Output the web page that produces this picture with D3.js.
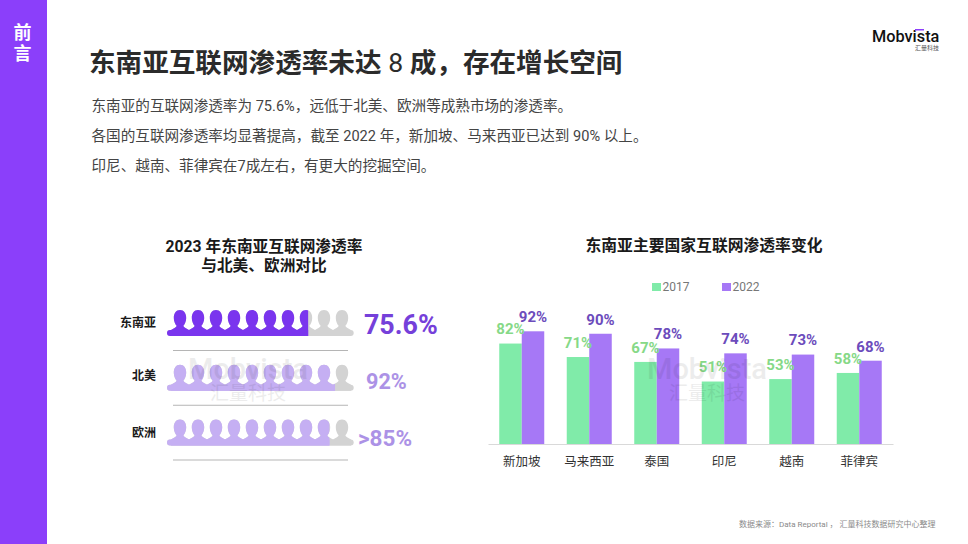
<!DOCTYPE html>
<html lang="zh">

<head>
    <meta charset="UTF-8">
    <script src="https://d3js.org/d3.v7.min.js"></script>
    <title>东南亚互联网渗透率</title>
    <style>
        html, body { margin: 0; padding: 0; background: #fff; }
        svg { display: block; }
        text { font-family: Roboto, "Noto Sans CJK SC", sans-serif; }
    </style>
</head>

<body>
    <div id="app"></div>
    <script>
        // left chart
        const regions = ['东南亚', '北美', '欧洲'];
        const regionLabels = ['75.6%', '92%', '>85%'];
        const regionFill = [75.6, 90, 87]; // how far the fill runs
        const people = [0, 1, 2, 3, 4, 5, 6, 7, 8, 9];

        // right chart
        const countries = ['新加坡', '马来西亚', '泰国', '印尼', '越南', '菲律宾'];
        const years = ['2017', '2022'];
        const values2017 = [82, 71, 67, 51, 53, 58];
        const values2022 = [92, 90, 78, 74, 73, 68];

        const introLines = [
            '东南亚的互联网渗透率为 75.6%，远低于北美、欧洲等成熟市场的渗透率。',
            '各国的互联网渗透率均显著提高，截至 2022 年，新加坡、马来西亚已达到 90% 以上。',
            '印尼、越南、菲律宾在7成左右，有更大的挖掘空间。'
        ];

        const width = 968;
        const height = 544;
        const green = '#80EBA9';
        const purple = '#A678F6';

        const svg = d3.select('#app').append('svg')
            .attr('width', width)
            .attr('height', height);

        function label(x, y, str, size, color, weight, anchor) {
            return svg.append('text')
                .attr('x', x).attr('y', y)
                .attr('dy', '0.36em')
                .attr('font-size', size)
                .attr('fill', color)
                .attr('font-weight', weight || 400)
                .attr('text-anchor', anchor || 'start')
                .text(str);
        }

        // side band + headings
        svg.append('rect').attr('width', 47).attr('height', height).attr('fill', '#8B3FFA');
        label(22.5, 33, '前', 18, '#fff', 700, 'middle');
        label(22.5, 54, '言', 18, '#fff', 700, 'middle');

        const title = label(89, 62, '东南亚互联网渗透率未达 ', 26.6, '#2b2b2b', 700);
        title.append('tspan').attr('font-weight', 400).text('8');
        title.append('tspan').text(' 成，存在增长空间');

        introLines.forEach(function (d, i) {
            label(91.5, 105.5 + i * 30, d, 14.6, '#444');
        });

        // logo
        label(872, 36, 'Mobvista', 16.3, '#111', 500);
        svg.append('rect').attr('x', 915).attr('y', 29).attr('width', 9).attr('height', 1.5).attr('fill', '#8B3FFA');
        label(915, 48, '汇量科技', 6, '#555');

        // ---- left chart: pictogram rows ----
        label(264, 246, '2023 年东南亚互联网渗透率', 15.7, '#1a1a1a', 700, 'middle');
        label(264, 265, '与北美、欧洲对比', 15.7, '#1a1a1a', 700, 'middle');

        const rowY = d3.scalePoint().domain(regions).range([310, 419.5]);
        const fillX = d3.scaleLinear().domain([0, 100]).range([167, 353.7]);
        const personX = d3.scaleBand().domain(people).range([171, 351]);
        const rowColors = ['#7A35EE', '#C5AFF3', '#C5AFF3'];
        const valueColors = ['#7540DA', '#AC92E6', '#AC92E6'];
        const valueSizes = [26.8, 21.6, 22.5];
        const valueX = [364, 366, 358];
        const valueY = [324, 381, 438];
        const nameY = [323, 376, 433];
        const rowH = 26;

        const defs = svg.append('defs');

        // one person: head plus shoulders, row base runs under all of them
        const personPath = 'M0,0 C-4,0 -6.2,3.4 -6.2,8 C-6.2,11.4 -4.8,14.2 -3.4,15.8 '
            + 'C-3.4,17.4 -6,18.4 -9,20 L-9,26 L9,26 L9,20 C6,18.4 3.4,17.4 3.4,15.8 '
            + 'C4.8,14.2 6.2,11.4 6.2,8 C6.2,3.4 4,0 0,0 Z';

        regions.forEach(function (region, r) {
            const id = 'split-' + r;
            defs.append('clipPath').attr('id', id)
                .append('rect')
                .attr('x', fillX(0)).attr('y', rowY(region) - 1)
                .attr('width', fillX(regionFill[r]) - fillX(0))
                .attr('height', rowH + 2);

            const drawRow = function (color, clip) {
                const g = svg.append('g').attr('fill', color);
                if (clip) g.attr('clip-path', 'url(#' + id + ')');
                g.selectAll('path')
                    .data(people)
                    .enter()
                    .append('path')
                    .attr('d', personPath)
                    .attr('transform', function (d) {
                        return 'translate(' + (personX(d) + personX.bandwidth() / 2) + ',' + rowY(region) + ')';
                    });
                g.append('rect')
                    .attr('x', fillX(0)).attr('y', rowY(region) + 20)
                    .attr('width', fillX(100) - fillX(0)).attr('height', rowH - 20)
                    .attr('rx', 3);
            };
            drawRow('#D3D3D3', false);
            drawRow(rowColors[r], true);

            label(156, nameY[r], region, 12, '#1a1a1a', 700, 'end');
            label(valueX[r], valueY[r], regionLabels[r], valueSizes[r], valueColors[r], 700);

            svg.append('line')
                .attr('x1', 173).attr('x2', 348)
                .attr('y1', rowY(region) + 40.5).attr('y2', rowY(region) + 40.5)
                .attr('stroke', '#b5b5b5').attr('stroke-width', 1);
        });

        // ---- right chart: grouped bars ----
        label(704, 245, '东南亚主要国家互联网渗透率变化', 15.8, '#1a1a1a', 700, 'middle');

        const x0 = d3.scaleBand().domain(countries).range([488, 893]).paddingInner(1 / 3).paddingOuter(1 / 6);
        const x1 = d3.scaleBand().domain(years).range([0, x0.bandwidth()]);
        const y = d3.scaleLinear().domain([0, 100]).range([444, 321.5]);

        const series = [
            { year: years[0], values: values2017, color: green, text: '#86D987' },
            { year: years[1], values: values2022, color: purple, text: '#6C4CBC' }
        ];

        series.forEach(function (s) {
            svg.append('g')
                .selectAll('rect')
                .data(s.values)
                .enter()
                .append('rect')
                .attr('x', function (d, i) { return x0(countries[i]) + x1(s.year); })
                .attr('y', function (d) { return y(d); })
                .attr('width', x1.bandwidth())
                .attr('height', function (d) { return y(0) - y(d); })
                .attr('fill', s.color);
        });

        // labels after all bars, they overlap the neighbour bar
        series.forEach(function (s) {
            svg.append('g')
                .selectAll('text')
                .data(s.values)
                .enter()
                .append('text')
                .attr('x', function (d, i) { return x0(countries[i]) + x1(s.year) + x1.bandwidth() / 2; })
                .attr('y', function (d) { return y(d) - 14.5; })
                .attr('dy', '0.36em')
                .attr('text-anchor', 'middle')
                .attr('font-size', 15)
                .attr('font-weight', 700)
                .attr('fill', s.text)
                .text(function (d) { return d + '%'; });
        });

        const axis = svg.append('g')
            .attr('transform', 'translate(0,444)')
            .call(d3.axisBottom(x0).tickSize(0).tickPadding(13));
        axis.select('.domain').attr('stroke', '#d9d9d9');
        axis.selectAll('text')
            .attr('font-size', 12.5)
            .attr('fill', '#333')
            .style('font-family', 'Roboto, "Noto Sans CJK SC", sans-serif');

        // legend
        const legendX = [652, 722];
        series.forEach(function (s, i) {
            svg.append('rect')
                .attr('x', legendX[i]).attr('y', 283)
                .attr('width', 9).attr('height', 8)
                .attr('fill', s.color);
            label(legendX[i] + 10.5, 287, s.year, 12, '#777');
        });

        label(739, 524, '数据来源：Data Reportal ， 汇量科技数据研究中心整理', 8, '#8a8a8a');

        // watermarks sit over the marks
        [248, 707].forEach(function (cx) {
            label(cx, 369, 'Mobvista', 29, '#000', 500, 'middle').attr('opacity', 0.07);
            label(cx, 393, '汇量科技', 19, '#000', 400, 'middle').attr('opacity', 0.07);
        });
    </script>
</body>

</html>
